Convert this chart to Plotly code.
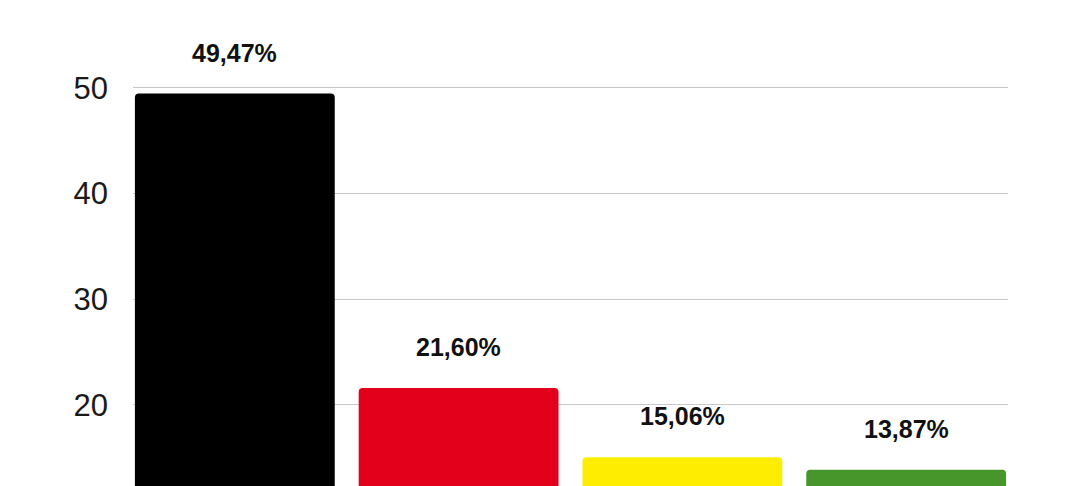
import plotly.graph_objects as go

# %%
parties = ["CDU", "SPD", "FDP", "GRÜNE"]
shares = [49.47, 21.60, 15.06, 13.87]
share_labels = ["49,47%", "21,60%", "15,06%", "13,87%"]
bar_colors = ["#000000", "#e2001a", "#ffed00", "#46962b"]
y_ticks = [20, 30, 40, 50]

# %%
fig = go.Figure()

fig.add_trace(
    go.Bar(
        x = parties,
        y = shares,
        width = 0.893,
        marker_color = bar_colors,
        marker_line_width = 0,
        hoverinfo = "skip",
    )
)

for party, share, label in zip(parties, shares, share_labels):
    fig.add_annotation(
        x = party,
        y = share,
        text = f"<b>{label}</b>",
        showarrow = False,
        yshift = 41,
        font = dict(family = "Liberation Sans, Arial, sans-serif", size = 25, color = "#111111"),
    )

# page body adds an 8px margin, so the figure is sized to the remaining window
fig.update_layout(
    width = 1072,
    height = 478,
    margin = dict(l = 125, r = 72, t = 0, b = 0),
    paper_bgcolor = "white",
    plot_bgcolor = "white",
    showlegend = False,
    barcornerradius = 4,
    xaxis = dict(
        range = [-0.455, 3.455],
        showticklabels = False,
        showgrid = False,
        zeroline = False,
        showline = False,
    ),
    yaxis = dict(
        range = [12.33, 57.57],
        tickvals = y_ticks,
        showgrid = True,
        gridcolor = "#c8c8c8",
        gridwidth = 1,
        zeroline = False,
        showline = False,
        ticks = "",
        ticklabelstandoff = 24,
        tickfont = dict(family = "Liberation Sans, Arial, sans-serif", size = 31, color = "#1a1a1a"),
    ),
)

fig.write_html("out.html")
